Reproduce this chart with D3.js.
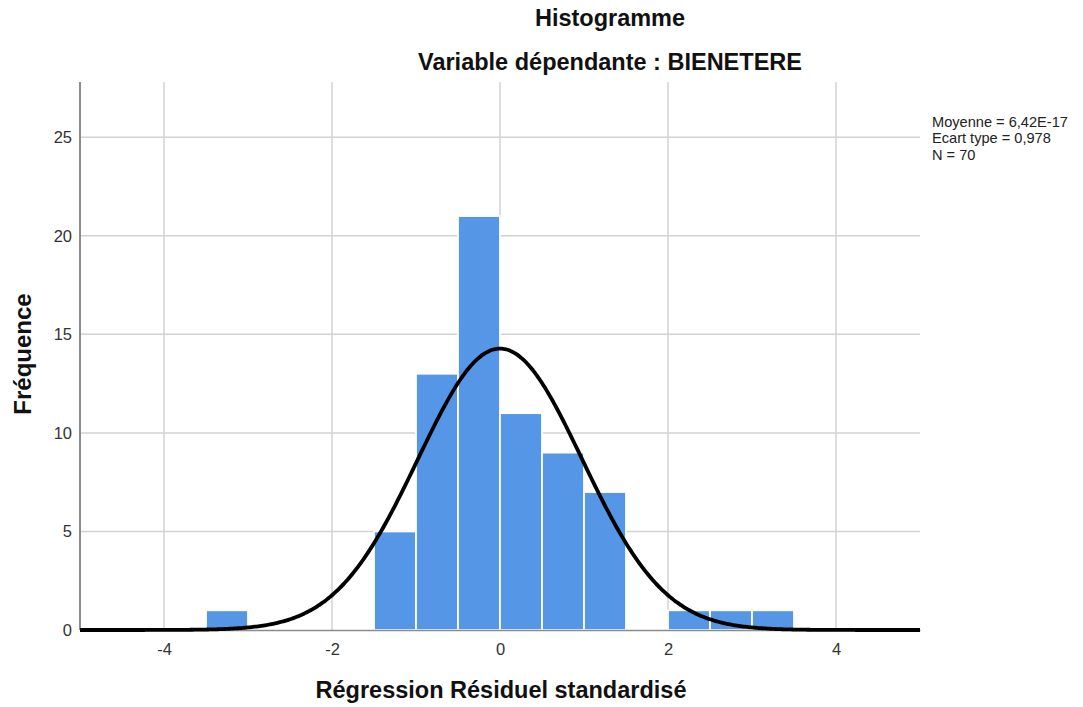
<!DOCTYPE html>
<html><head><meta charset="utf-8">
<script src="https://cdn.jsdelivr.net/npm/d3@7"></script>
<style>body{margin:0;background:#fff;}svg{display:block;font-family:"Liberation Sans",Arial,sans-serif;}</style>
</head><body>
<svg id="c" width="1083" height="707"></svg>
<script>
const binStarts = [-3.5, -1.5, -1.0, -0.5, 0.0, 0.5, 1.0, 2.0, 2.5, 3.0];
const binCounts = [1, 5, 13, 21, 11, 9, 7, 1, 1, 1];
const binWidth = 0.5;
const xTicks = [-4, -2, 0, 2, 4];
const yTicks = [0, 5, 10, 15, 20, 25];
const statLines = ["Moyenne = 6,42E-17", "Ecart type = 0,978", "N = 70"];
const meanVal = 6.42e-17, sdVal = 0.978, nVal = 70;

const svg = d3.select("#c");
const x = d3.scaleLinear().domain([-5, 5]).range([80, 920]);
const y = d3.scaleLinear().domain([0, 27.8]).range([630, 82]);
const FONT = "Liberation Sans, Arial, sans-serif";

// grid
svg.append("g").selectAll("line").data(yTicks.filter(d=>d>0)).join("line")
  .attr("x1", 80).attr("x2", 920).attr("y1", d=>y(d)).attr("y2", d=>y(d))
  .attr("stroke", "#d2d2d2").attr("stroke-width", 1.5);
svg.append("g").selectAll("line").data(xTicks).join("line")
  .attr("x1", d=>x(d)).attr("x2", d=>x(d)).attr("y1", 82).attr("y2", 630)
  .attr("stroke", "#d2d2d2").attr("stroke-width", 1.5);

// bars
svg.append("g").selectAll("rect").data(binStarts.map((s,i)=>({s, c: binCounts[i]}))).join("rect")
  .attr("x", d=>x(d.s)).attr("width", d=>x(d.s+binWidth)-x(d.s))
  .attr("y", d=>y(d.c)).attr("height", d=>y(0)-y(d.c))
  .attr("fill", "#5596e6").attr("stroke", "#ffffff").attr("stroke-width", 1.8);

// axes
const yAxis = d3.axisLeft(y).tickValues(yTicks).tickSize(0).tickPadding(8);
const gy = svg.append("g").attr("transform", "translate(80,0)").call(yAxis);
gy.select(".domain").attr("stroke", "#8c8c8c").attr("stroke-width", 2).attr("d", `M0,${y(27.8)}V${y(0)}`);
gy.selectAll("text").attr("font-size", 16.5).attr("fill", "#333").attr("font-family", FONT);

const xAxis = d3.axisBottom(x).tickValues(xTicks).tickSize(0).tickPadding(13)
  .tickFormat(d => String(d));
const gx = svg.append("g").attr("transform", "translate(0,630)").call(xAxis);
gx.select(".domain").attr("stroke", "#8c8c8c").attr("stroke-width", 1.5);
gx.selectAll("text").attr("font-size", 16.5).attr("fill", "#333").attr("font-family", FONT);

// normal curve
const pts = d3.range(-5, 5.0001, 0.02).map(v => [v, nVal*binWidth/(sdVal*Math.sqrt(2*Math.PI))*Math.exp(-0.5*((v-meanVal)/sdVal)**2)]);
svg.append("path").datum(pts)
  .attr("d", d3.line().x(d=>x(d[0])).y(d=>y(d[1])).curve(d3.curveBasis))
  .attr("fill", "none").attr("stroke", "#000").attr("stroke-width", 3.8);

// titles
svg.append("text").attr("x", 610).attr("y", 26).attr("text-anchor", "middle")
  .attr("font-size", 23.5).attr("font-weight", "bold").attr("fill", "#111").text("Histogramme");
svg.append("text").attr("x", 610).attr("y", 70).attr("text-anchor", "middle")
  .attr("font-size", 23.5).attr("font-weight", "bold").attr("fill", "#111").text("Variable dépendante : BIENETERE");
svg.append("text").attr("x", 501).attr("y", 698).attr("text-anchor", "middle")
  .attr("font-size", 23.5).attr("font-weight", "bold").attr("fill", "#111").text("Régression Résiduel standardisé");
svg.append("text").attr("transform", "translate(31,354) rotate(-90)").attr("text-anchor", "middle")
  .attr("font-size", 24).attr("font-weight", "bold").attr("fill", "#111").text("Fréquence");

// stats
svg.append("g").selectAll("text").data(statLines).join("text")
  .attr("x", 932).attr("y", (d,i)=>127+i*16.3)
  .attr("font-size", 14.6).attr("fill", "#222").text(d=>d);
</script>
</body></html>
